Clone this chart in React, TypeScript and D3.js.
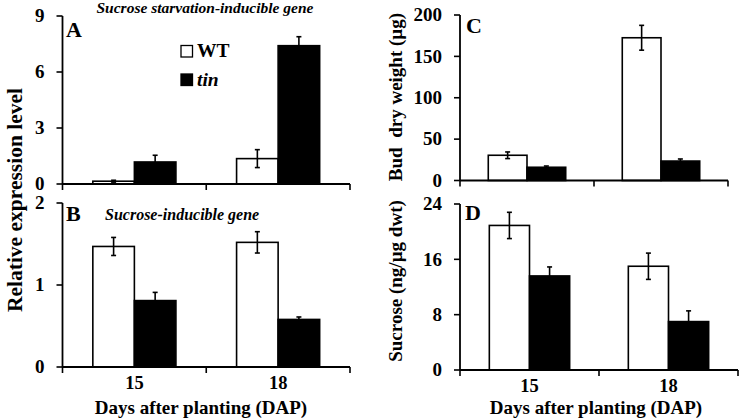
import React from "react";
import * as d3 from "d3";

const days = ["15", "18"];
const series = ["WT", "tin"];

const aWT = [0.15, 1.36];
const aWTErr = [0.05, 0.48];
const aTin = [1.18, 7.41];
const aTinErr = [0.36, 0.48];

const bWT = [1.47, 1.52];
const bWTErr = [0.11, 0.13];
const bTin = [0.81, 0.58];
const bTinErr = [0.1, 0.03];

const cWT = [30.5, 172.5];
const cWTErr = [4, 15];
const cTin = [16, 23.5];
const cTinErr = [1.5, 2.5];

const dWT = [20.9, 15.0];
const dWTErr = [1.9, 1.9];
const dTin = [13.6, 7.0];
const dTinErr = [1.3, 1.55];

const aTicks = [0, 3, 6, 9];
const bTicks = [0, 1, 2];
const cTicks = [0, 50, 100, 150, 200];
const dTicks = [0, 8, 16, 24];

const FONT = "'Liberation Serif', Tinos, 'Times New Roman', serif";

type PanelProps = {
  x0: number;
  x1: number;
  yTop: number;
  yBot: number;
  max: number;
  ticks: number[];
  wt: number[];
  wtErr: number[];
  tin: number[];
  tinErr: number[];
  showXLabels: boolean;
};

function Panel(p: PanelProps) {
  const x = d3.scaleBand<string>().domain(days).range([p.x0, p.x1]).padding(0);
  const bw = x.bandwidth();
  const y = d3.scaleLinear().domain([0, p.max]).range([p.yBot, p.yTop]);
  const barW = bw * 0.289;
  const inner = d3.scaleBand<string>().domain(series).range([-barW, barW]).padding(0);
  const vals = [p.wt, p.tin];
  const errs = [p.wtErr, p.tinErr];
  const boundaries = [p.x0, ...days.map((d) => (x(d) as number) + bw)];
  return (
    <g>
      {days.map((d, i) =>
        series.map((s, j) => {
          const cx = (x(d) as number) + bw / 2;
          const bx = cx + (inner(s) as number);
          const v = vals[j][i];
          const e = errs[j][i];
          const mid = bx + barW / 2;
          return (
            <g key={d + s}>
              <rect
                x={bx}
                y={y(v)}
                width={barW}
                height={p.yBot - y(v)}
                fill={j === 0 ? "#fff" : "#000"}
                stroke="#000"
                strokeWidth={1.6}
              />
              <line x1={mid} x2={mid} y1={y(v + e)} y2={y(v - e)} stroke="#000" strokeWidth={1.6} />
              <line x1={mid - 2.5} x2={mid + 2.5} y1={y(v + e)} y2={y(v + e)} stroke="#000" strokeWidth={1.6} />
              <line x1={mid - 2.5} x2={mid + 2.5} y1={y(v - e)} y2={y(v - e)} stroke="#000" strokeWidth={1.6} />
            </g>
          );
        })
      )}
      <line x1={p.x0} x2={p.x0} y1={p.yTop} y2={p.yBot} stroke="#000" strokeWidth={1.8} />
      <line x1={p.x0} x2={p.x1} y1={p.yBot} y2={p.yBot} stroke="#000" strokeWidth={1.8} />
      {p.ticks.map((t) => (
        <g key={t}>
          <line x1={p.x0 - 6} x2={p.x0} y1={y(t)} y2={y(t)} stroke="#000" strokeWidth={1.6} />
          <text x={p.x0 - 18} y={y(t) + 6.3} textAnchor="end" fontSize={19} fontWeight="bold" fontFamily={FONT}>
            {t}
          </text>
        </g>
      ))}
      {boundaries.map((bx, i) => (
        <line key={i} x1={bx} x2={bx} y1={p.yBot} y2={p.yBot + 6} stroke="#000" strokeWidth={1.6} />
      ))}
      {p.showXLabels &&
        days.map((d) => (
          <text key={d} x={(x(d) as number) + bw / 2} y={p.yBot + 21.5} textAnchor="middle" fontSize={18.5} fontWeight="bold" fontFamily={FONT}>
            {d}
          </text>
        ))}
    </g>
  );
}

export default function App() {
  return (
    <svg width={740} height={420} style={{ display: "block", position: "absolute", left: 0, top: 0, background: "#fff" }}>
      <rect width={740} height={420} fill="#fff" />
      <Panel x0={62.5} x1={350} yTop={16} yBot={184} max={9} ticks={aTicks} wt={aWT} wtErr={aWTErr} tin={aTin} tinErr={aTinErr} showXLabels={false} />
      <Panel x0={62.5} x1={350} yTop={203} yBot={367} max={2} ticks={bTicks} wt={bWT} wtErr={bWTErr} tin={bTin} tinErr={bTinErr} showXLabels={true} />
      <Panel x0={460} x1={728} yTop={15} yBot={180.5} max={200} ticks={cTicks} wt={cWT} wtErr={cWTErr} tin={cTin} tinErr={cTinErr} showXLabels={false} />
      <Panel x0={460} x1={738} yTop={204} yBot={370} max={24} ticks={dTicks} wt={dWT} wtErr={dWTErr} tin={dTin} tinErr={dTinErr} showXLabels={true} />

      <g fontFamily={FONT} fontWeight="bold">
        <text x={205} y={13} textAnchor="middle" fontSize={15.5} fontStyle="italic">Sucrose starvation-inducible gene</text>
        <text x={105} y={220} fontSize={16} fontStyle="italic">Sucrose-inducible gene</text>
        <text x={66} y={37} fontSize={22}>A</text>
        <text x={66} y={221} fontSize={22}>B</text>
        <text x={466} y={33} fontSize={22}>C</text>
        <text x={465} y={220} fontSize={22}>D</text>

        <rect x={181} y={45.5} width={11.5} height={11.5} fill="#fff" stroke="#000" strokeWidth={1.3} />
        <text x={197} y={57} fontSize={19.5}>WT</text>
        <rect x={181} y={74} width={11.5} height={11.5} fill="#000" stroke="#000" strokeWidth={1.3} />
        <text x={197} y={85.5} fontSize={19.5} fontStyle="italic">tin</text>

        <text transform="translate(22,200) rotate(-90)" textAnchor="middle" fontSize={21.5}>Relative expression level</text>
        <text transform="translate(402,97) rotate(-90)" textAnchor="middle" fontSize={19} style={{ whiteSpace: "pre" }}>{"Bud  dry weight (µg)"}</text>
        <text transform="translate(402,281) rotate(-90)" textAnchor="middle" fontSize={19}>Sucrose (ng/µg dwt)</text>

        <text x={201} y={413.5} textAnchor="middle" fontSize={19}>Days after planting (DAP)</text>
        <text x={596} y={414} textAnchor="middle" fontSize={19}>Days after planting (DAP)</text>
      </g>
    </svg>
  );
}
